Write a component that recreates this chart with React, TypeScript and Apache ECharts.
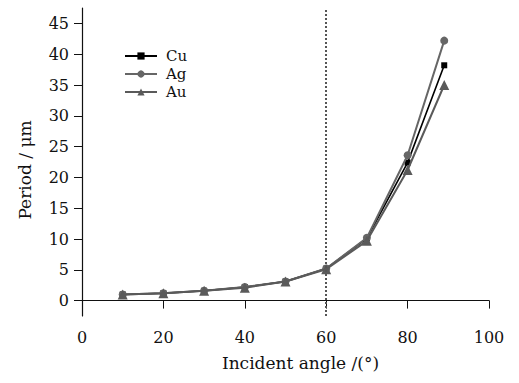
import React, { useEffect, useRef } from "react";
import * as echarts from "echarts";

const angles = [10, 20, 30, 40, 50, 60, 70, 80, 89];
const cuValues = [1.0, 1.2, 1.6, 2.2, 3.1, 5.2, 10.1, 22.4, 38.2];
const agValues = [1.0, 1.2, 1.6, 2.2, 3.1, 5.2, 10.2, 23.6, 42.2];
const auValues = [1.0, 1.2, 1.6, 2.1, 3.1, 5.1, 9.7, 21.2, 35.0];
const yTicks = [0, 5, 10, 15, 20, 25, 30, 35, 40, 45];
const markAngle = 60;

const FONT = "DejaVu Serif";

export default function App() {
  const ref = useRef<HTMLDivElement>(null);
  useEffect(() => {
    if (!ref.current) return;
    const chart = echarts.init(ref.current, undefined, { renderer: "svg" });
    const pair = (ys: number[]) => angles.map((x, i) => [x, ys[i]]);
    chart.setOption({
      animation: false,
      backgroundColor: "#ffffff",
      grid: { left: 82, right: 30, top: 8, bottom: 67 },
      legend: {
        orient: "vertical",
        left: 124,
        top: 47,
        itemWidth: 32,
        itemHeight: 9,
        itemGap: 0,
        padding: 0,
        textStyle: { fontFamily: FONT, fontSize: 15, lineHeight: 18, color: "#111", padding: [0, 0, 0, 4] },
        data: ["Cu", "Ag", "Au"],
      },
      xAxis: {
        type: "value",
        min: 0,
        max: 100,
        interval: 20,
        name: "Incident angle /(°)",
        nameLocation: "middle",
        nameGap: 38,
        nameTextStyle: { fontFamily: FONT, fontSize: 17, color: "#111", padding: [0, 0, 0, 30] },
        axisLine: { lineStyle: { color: "#111", width: 1.2 } },
        axisTick: { length: 8, lineStyle: { color: "#111" } },
        axisLabel: { fontFamily: FONT, fontSize: 16, color: "#111", margin: 13 },
        splitLine: { show: false },
      },
      yAxis: {
        type: "value",
        min: -2.5,
        max: 47.5,
        name: "Period / μm",
        nameLocation: "middle",
        nameGap: 49,
        nameTextStyle: { fontFamily: FONT, fontSize: 17, color: "#111", padding: [0, 16, 0, 0] },
        axisLine: { show: true, lineStyle: { color: "#111", width: 1.2 } },
        axisTick: { show: true, length: 8, customValues: yTicks, lineStyle: { color: "#111" } },
        axisLabel: { fontFamily: FONT, fontSize: 16, color: "#111", margin: 13, customValues: yTicks },
        splitLine: { show: false },
      },
      series: [
        {
          name: "Cu",
          type: "line",
          data: pair(cuValues),
          symbol: "rect",
          symbolSize: 6,
          color: "#000000",
          lineStyle: { color: "#000000", width: 1.6 },
          itemStyle: { color: "#000000" },
          z: 2,
          markLine: {
            silent: true,
            symbol: "none",
            label: { show: false },
            lineStyle: { color: "#555", type: "dotted", width: 2 },
            data: [{ xAxis: markAngle }],
          },
        },
        {
          name: "Ag",
          type: "line",
          data: pair(agValues),
          symbol: "circle",
          symbolSize: 8,
          color: "#666666",
          lineStyle: { color: "#666666", width: 2 },
          itemStyle: { color: "#666666" },
          z: 3,
        },
        {
          name: "Au",
          type: "line",
          data: pair(auValues),
          symbol: "triangle",
          symbolSize: 10,
          color: "#5a5a5a",
          lineStyle: { color: "#5a5a5a", width: 2 },
          itemStyle: { color: "#5a5a5a" },
          z: 4,
        },
      ],
    });
    return () => chart.dispose();
  }, []);
  return <div ref={ref} style={{ width: 519, height: 383, position: "absolute", left: 0, top: 0 }} />;
}
